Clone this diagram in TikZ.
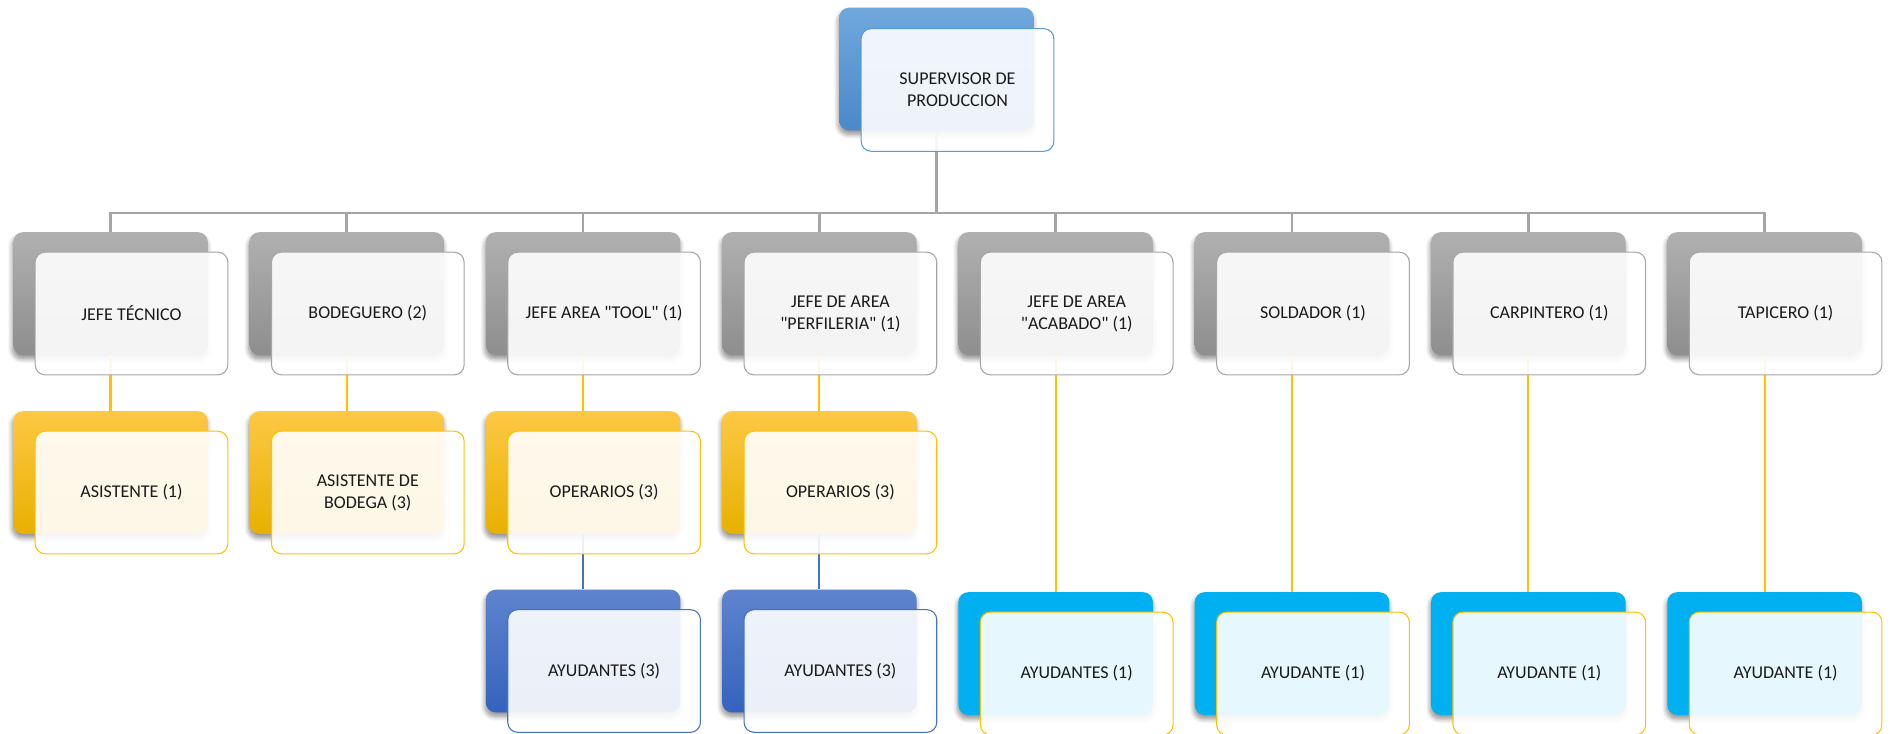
\documentclass[tikz,border=0pt]{standalone}
\usepackage{fontspec}
\setmainfont{Carlito}[Ligatures=TeXOff]
\usetikzlibrary{shadows.blur}

\definecolor{busgray}{HTML}{A5A5A5}
\definecolor{gtop}{HTML}{B0B0B0}
\definecolor{gbot}{HTML}{8E8E8E}
\definecolor{gedge}{HTML}{A6A6A6}
\definecolor{ytop}{HTML}{FDC845}
\definecolor{ymid}{HTML}{FFC000}
\definecolor{ybot}{HTML}{E8B000}
\definecolor{yedge}{HTML}{FFC000}
\definecolor{ntop}{HTML}{5F84CE}
\definecolor{nbot}{HTML}{3462BE}
\definecolor{nedge}{HTML}{4472C4}
\definecolor{btop}{HTML}{70A8DD}
\definecolor{bbot}{HTML}{4A88C8}
\definecolor{bedge}{HTML}{5B9BD5}
\definecolor{cyanfill}{HTML}{00B0F0}
\definecolor{txt}{HTML}{1A1A1A}

\begin{document}
\begin{tikzpicture}[x=0.75pt,y=-0.75pt,
  backbox/.style={rounded corners=7.5pt, minimum width=146pt, minimum height=92pt,
    inner sep=0pt, draw=none,
    blur shadow={shadow xshift=-0.5pt, shadow yshift=-3pt, shadow blur radius=3.5pt,
      shadow blur steps=8, shadow opacity=45}},
  grayback/.style={backbox, top color=gtop, bottom color=gbot},
  yellowback/.style={backbox, top color=ytop, middle color=ymid, bottom color=ybot},
  navyback/.style={backbox, top color=ntop, bottom color=nbot},
  blueback/.style={backbox, top color=btop, bottom color=bbot},
  cyanback/.style={backbox, fill=cyanfill},
  frontbox/.style={rounded corners=7.5pt, minimum width=144.5pt, minimum height=92pt,
    inner sep=2pt, fill=white, fill opacity=0.9, text opacity=1, line width=0.8pt,
    align=center, text=txt, font=\fontsize{13.5}{16.5}\selectfont},
  grayfront/.style={frontbox, draw=gedge},
  yellowfront/.style={frontbox, draw=yedge},
  navyfront/.style={frontbox, draw=nedge},
  bluefront/.style={frontbox, draw=bedge},
  busline/.style={draw=busgray, line width=2pt},
  yline/.style={draw=yedge, line width=1.6pt},
  nline/.style={draw=nedge, line width=1.6pt}]

\useasboundingbox (0,0) rectangle (1890,734);

% ---- coloured back cards ----
\node[blueback] (sup) at (936.5,69) {};
\foreach \i in {1,...,8}
  \node[grayback] (b\i) at ({110.5+236.3*(\i-1)},293.5) {};
\foreach \i in {1,...,4}
  \node[yellowback] (a\i) at ({110.5+236.3*(\i-1)},472.5) {};
\foreach \i in {3,4}
  \node[navyback] (c\i) at ({110.5+236.3*(\i-1)},651) {};
\foreach \i in {5,...,8}
  \node[cyanback] (c\i) at ({110.5+236.3*(\i-1)},653.5) {};

% ---- connectors ----
\coordinate (bus) at (936.5,213);
\draw[busline] (sup.south) -- (bus);
\draw[busline] (b1.north) |- (bus) -| (b8.north);
\foreach \i in {2,...,7}
  \draw[busline] (b\i.north) -- (b\i.north |- bus);
\foreach \i in {1,...,4}
  \draw[yline] (b\i.south) -- (a\i.north);
\foreach \i in {3,4}
  \draw[nline] (a\i.south) -- (c\i.north);
\foreach \i in {5,...,8}
  \draw[yline] (b\i.south) -- (c\i.north);

% ---- light front cards with the titles ----
\node[bluefront] (fsup) at (957.5,90) {SUPERVISOR DE\\PRODUCCION};
\foreach \i/\t in {1/{JEFE TÉCNICO}, 2/{BODEGUERO (2)}, 3/{JEFE AREA "TOOL" (1)},
    4/{JEFE DE AREA\\"PERFILERIA" (1)}, 5/{JEFE DE AREA\\"ACABADO" (1)},
    6/{SOLDADOR (1)}, 7/{CARPINTERO (1)}, 8/{TAPICERO (1)}}
  \node[grayfront] (fb\i) at ({131.5+236.3*(\i-1)},313.5) {\t};
\foreach \i/\t in {1/{ASISTENTE (1)}, 2/{ASISTENTE DE\\BODEGA (3)},
    3/{OPERARIOS (3)}, 4/{OPERARIOS (3)}}
  \node[yellowfront] (fa\i) at ({131.5+236.3*(\i-1)},492.5) {\t};
\foreach \i/\t in {3/{AYUDANTES (3)}, 4/{AYUDANTES (3)}}
  \node[navyfront] (fc\i) at ({131.5+236.3*(\i-1)},671) {\t};
\foreach \i/\t in {5/{AYUDANTES (1)}, 6/{AYUDANTE (1)}, 7/{AYUDANTE (1)}, 8/{AYUDANTE (1)}}
  \node[yellowfront] (fc\i) at ({131.5+236.3*(\i-1)},673.5) {\t};

\end{tikzpicture}
\end{document}
